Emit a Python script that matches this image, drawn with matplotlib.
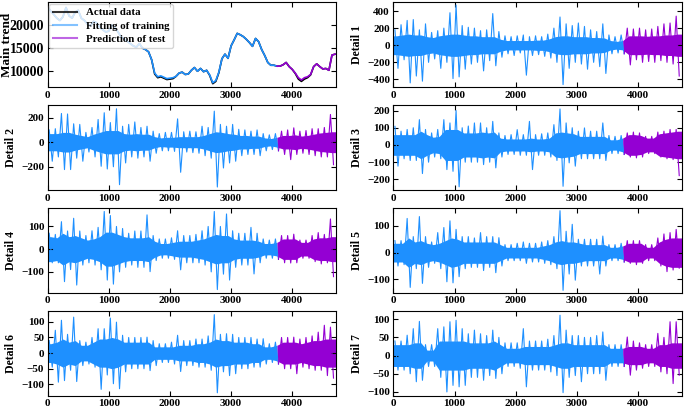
import numpy as np
import matplotlib.pyplot as plt
from matplotlib.lines import Line2D
from matplotlib.ticker import MultipleLocator

plt.rcParams['font.family'] = ['Liberation Serif', 'DejaVu Serif']
plt.rcParams['font.weight'] = 'bold'
plt.rcParams['axes.labelweight'] = 'bold'

BLUE = '#1e90ff'
PURPLE = '#9400d3'
SPLIT = 3750
N = 4720
CHUNK = 100

# main trend, one value every 50 steps (0..4700)
trend_fit = [24000, 23000, 22300, 21500, 21000, 21800, 23800, 22000, 21500, 22800,
             23200, 21500, 21000, 20200, 19800, 20800, 20500, 19500, 19000, 18500,
             18700, 20000, 19500, 18500, 17500, 17000, 16500, 16000, 15500, 15200,
             16000, 15000, 14700, 14200, 12500, 9600, 8800, 9000, 8700, 8400,
             8500, 8600, 8900, 9600, 9800, 9300, 9400, 10200, 10800, 10000,
             10600, 9900, 10200, 9200, 7500, 8000, 9800, 12700, 13700, 12800,
             15500, 16800, 18200, 17900, 17500, 16900, 16200, 15400, 17100, 16400,
             14700, 13400, 11900, 11300, 11300, 11100, 11100, 11400, 11900, 11000,
             10400, 9600, 8600, 8100, 8600, 8800, 9300, 11000, 11600, 11000,
             10500, 10600, 10200, 13500, 13700]
trend_actual = [24000, 23000, 22300, 21500, 21000, 21800, 23800, 22000, 21500, 22800,
                23200, 21500, 21000, 20200, 19800, 20800, 20500, 19500, 19000, 18500,
                18700, 20000, 19500, 18500, 17500, 17000, 16500, 16000, 15500, 15200,
                16000, 15000, 14700, 14200, 12500, 9400, 8600, 8800, 8500, 8200,
                8300, 8400, 8900, 9600, 9800, 9300, 9400, 10200, 10800, 10000,
                10600, 9900, 10200, 9100, 7300, 7800, 9700, 12700, 13700, 12800,
                15500, 16800, 18200, 17900, 17500, 16900, 16200, 15400, 17100, 16400,
                14700, 13400, 11900, 11300, 11300, 11100, 11100, 11400, 11900, 11000,
                10400, 9500, 8300, 7800, 8300, 8600, 9200, 11000, 11600, 11000,
                10500, 10600, 10200, 13500, 13700]

# detail components: per 100-step chunk, highest / lowest value and the dense core width
d1_hi = [180, 240, 290, 300, 180, 250, 150, 170, 200, 380, 470, 230, 210, 200, 170, 180,
         370, 160, 110, 100, 110, 120, 100, 110, 100, 130, 200, 330, 250, 230, 260, 220,
         180, 160, 250, 120, 100, 120, 200, 190, 200, 180, 190, 220, 250, 260, 340]
d1_lo = [-270, -170, -440, -360, -420, -200, -160, -270, -200, -390, -370, -280, -220, -200,
         -300, -180, -240, -140, -100, -120, -90, -350, -120, -110, -130, -150, -200, -460,
         -270, -200, -220, -280, -200, -250, -330, -100, -90, -100, -230, -170, -200, -190,
         -200, -180, -200, -220, -360]
d1_core = [110, 120, 130, 120, 120, 100, 90, 110, 120, 130, 130, 120, 110, 110, 100, 100,
           100, 70, 55, 55, 55, 55, 55, 60, 60, 75, 100, 110, 110, 100, 100, 100,
           90, 90, 85, 55, 45, 55, 110, 110, 110, 105, 110, 110, 120, 120, 130]

d2_hi = [100, 110, 234, 230, 150, 145, 80, 120, 185, 240, 160, 272, 130, 145, 165, 120,
         130, 90, 70, 80, 80, 190, 85, 90, 85, 130, 120, 253, 145, 130, 145, 105,
         100, 90, 100, 70, 60, 70, 90, 100, 117, 90, 95, 110, 110, 120, 226]
d2_lo = [-155, -120, -223, -223, -130, -155, -80, -120, -196, -218, -200, -346, -169, -120,
         -130, -120, -155, -90, -70, -70, -75, -245, -80, -85, -90, -110, -130, -365,
         -210, -169, -155, -110, -100, -100, -110, -70, -60, -70, -100, -142, -100, -90,
         -100, -110, -120, -120, -183]
d2_core = [70, 70, 80, 80, 65, 55, 45, 65, 80, 95, 95, 95, 70, 65, 70, 65,
           65, 45, 35, 40, 40, 45, 45, 45, 45, 55, 70, 85, 80, 70, 65, 55,
           55, 50, 50, 35, 30, 40, 55, 55, 60, 50, 55, 65, 75, 80, 85]

d3_hi = [108, 80, 90, 100, 147, 90, 70, 90, 147, 128, 200, 100, 110, 128, 128, 100,
         137, 70, 55, 60, 89, 60, 137, 60, 65, 70, 118, 209, 128, 100, 80, 99,
         80, 80, 128, 55, 50, 55, 70, 75, 70, 50, 50, 75, 80, 90, 90]
d3_lo = [-123, -80, -90, -90, -166, -100, -70, -80, -143, -153, -243, -100, -100, -100,
         -114, -100, -133, -70, -55, -55, -60, -60, -143, -60, -60, -70, -90, -240,
         -104, -123, -80, -80, -80, -80, -90, -50, -50, -55, -70, -75, -70, -50,
         -50, -70, -80, -85, -178]
d3_core = [60, 60, 60, 60, 80, 60, 45, 50, 90, 90, 90, 70, 70, 70, 75, 70,
           75, 40, 35, 35, 35, 35, 40, 35, 35, 40, 70, 75, 70, 65, 50, 50,
           50, 50, 50, 30, 30, 40, 60, 60, 55, 40, 40, 65, 70, 75, 80]

d4_hi = [70, 65, 121, 80, 136, 80, 60, 81, 96, 166, 148, 100, 91, 70, 80, 80,
         151, 60, 45, 45, 50, 81, 60, 60, 65, 81, 100, 166, 100, 155, 81, 70,
         70, 96, 70, 45, 40, 45, 60, 60, 66, 40, 40, 60, 73, 65, 133]
d4_lo = [-60, -60, -143, -90, -158, -70, -60, -70, -91, -136, -154, -100, -80, -70,
         -80, -80, -99, -50, -40, -40, -45, -91, -60, -60, -60, -70, -100, -178,
         -110, -136, -80, -70, -70, -109, -60, -40, -40, -45, -60, -61, -60, -40,
         -40, -55, -65, -60, -121]
d4_core = [55, 50, 70, 55, 60, 50, 40, 45, 55, 75, 75, 65, 55, 50, 50, 50,
           55, 35, 25, 25, 30, 35, 35, 35, 40, 45, 55, 65, 60, 60, 45, 40,
           40, 40, 35, 25, 25, 30, 45, 45, 45, 30, 30, 45, 50, 50, 55]

d5_hi = [45, 45, 128, 60, 135, 60, 40, 75, 94, 119, 87, 60, 60, 55, 75, 60,
         60, 56, 30, 30, 35, 40, 35, 35, 40, 45, 60, 157, 80, 106, 50, 50,
         50, 50, 62, 30, 30, 35, 45, 45, 45, 30, 30, 55, 70, 75, 87]
d5_lo = [-50, -45, -130, -60, -115, -55, -40, -60, -109, -113, -90, -60, -55, -55,
         -67, -55, -75, -50, -30, -30, -30, -40, -35, -35, -40, -45, -60, -141,
         -80, -103, -50, -50, -50, -80, -50, -30, -30, -35, -40, -45, -40, -30,
         -30, -50, -71, -65, -58]
d5_core = [35, 35, 55, 40, 45, 35, 30, 35, 45, 55, 50, 40, 40, 40, 40, 40,
           40, 30, 20, 20, 20, 20, 20, 20, 25, 30, 40, 45, 40, 40, 35, 30,
           30, 30, 30, 20, 20, 25, 35, 35, 35, 20, 20, 40, 50, 55, 55]

d6_hi = [40, 73, 105, 60, 115, 40, 35, 50, 78, 78, 112, 99, 57, 50, 50, 50,
         51, 40, 30, 30, 35, 57, 40, 40, 45, 45, 55, 123, 60, 62, 60, 50,
         50, 50, 45, 46, 30, 35, 50, 50, 51, 45, 50, 55, 67, 89, 83]
d6_lo = [-45, -93, -88, -55, -91, -40, -35, -45, -116, -70, -98, -114, -60, -50,
         -50, -50, -56, -40, -30, -30, -35, -59, -40, -40, -45, -45, -55, -127,
         -60, -72, -66, -50, -50, -45, -45, -35, -30, -35, -50, -50, -66, -45,
         -50, -55, -55, -72, -80]
d6_core = [30, 35, 45, 35, 40, 25, 25, 35, 45, 45, 50, 45, 35, 35, 35, 35,
           35, 20, 20, 20, 20, 25, 25, 25, 30, 30, 35, 45, 40, 40, 35, 35,
           35, 30, 30, 20, 20, 25, 35, 35, 35, 30, 35, 40, 40, 45, 45]

d7_hi = [40, 40, 56, 74, 94, 30, 30, 74, 79, 93, 97, 74, 60, 70, 60, 55,
         70, 50, 35, 35, 35, 74, 40, 40, 40, 45, 55, 111, 70, 55, 55, 50,
         50, 55, 65, 30, 30, 30, 51, 40, 35, 30, 30, 61, 50, 93, 93]
d7_lo = [-40, -40, -50, -72, -68, -30, -30, -60, -100, -82, -86, -82, -60, -60,
         -68, -55, -63, -50, -30, -30, -35, -86, -40, -40, -40, -45, -55, -102,
         -60, -55, -72, -50, -50, -50, -68, -30, -30, -30, -54, -40, -35, -30,
         -30, -45, -50, -77, -54]
d7_core = [30, 30, 30, 35, 35, 15, 15, 40, 40, 40, 40, 40, 35, 35, 35, 35,
           40, 30, 20, 20, 20, 25, 25, 25, 25, 25, 30, 35, 35, 30, 30, 30,
           30, 30, 30, 20, 20, 20, 25, 25, 25, 20, 20, 30, 30, 35, 35]


def style_axis(ax, label, ylim, step, ysize=8, lx=-0.106, lsize=8.5):
    ax.set_xlim(0, N)
    ax.set_ylim(*ylim)
    ax.set_ylabel(label, fontsize=lsize)
    ax.yaxis.set_label_coords(lx, 0.5)
    ax.xaxis.set_major_locator(MultipleLocator(1000))
    ax.yaxis.set_major_locator(MultipleLocator(step))
    ax.tick_params(direction='in', top=True, right=True, length=3.5)
    ax.tick_params(axis='x', labelsize=8, pad=2.5)
    ax.tick_params(axis='y', labelsize=ysize, pad=2.5)


def plot_trend(ax):
    x = np.arange(len(trend_fit)) * 50
    fit = np.array(trend_fit)
    act = np.array(trend_actual)
    s = np.searchsorted(x, SPLIT)
    ax.plot(x, act, color='black', lw=1.2)
    ax.plot(x[:s + 1], fit[:s + 1], color=BLUE, lw=1.2)
    ax.plot(x[s:], fit[s:], color=PURPLE, lw=1.2)

    handles = [Line2D([], [], color='black', lw=1.5, alpha=0.8),
               Line2D([], [], color=BLUE, lw=1.5, alpha=0.55),
               Line2D([], [], color=PURPLE, lw=1.5, alpha=0.6)]
    ax.legend(handles, ['Actual data', 'Fitting of training', 'Prediction of test'],
              loc='upper left', fontsize=7.8, borderaxespad=0.15, handlelength=2.2,
              labelspacing=0.35, borderpad=0.35)
    style_axis(ax, 'Main trend', (6550, 24900), 5000, ysize=10, lx=-0.121, lsize=9.5)


def plot_detail(ax, hi, lo, core, label, ylim, step):
    n = len(hi)
    start = np.arange(n) * CHUNK
    # zigzag through each chunk's extremes
    zx = np.column_stack([start + 25, start + 75]).ravel()
    zy = np.column_stack([hi, lo]).ravel()
    s = np.searchsorted(zx, SPLIT)
    ax.plot(zx[:s + 1], zy[:s + 1], color=BLUE, lw=0.8)
    ax.plot(zx[s:], zy[s:], color=PURPLE, lw=0.8)

    # dense core of the signal
    cx = np.concatenate([[0], start + 50, [N]])
    cy = np.concatenate([[core[0]], core, [core[-1]]])
    k = np.searchsorted(cx, SPLIT)
    ax.fill_between(cx[:k + 1], -cy[:k + 1], cy[:k + 1], color=BLUE, lw=0)
    ax.fill_between(cx[k:], -cy[k:], cy[k:], color=PURPLE, lw=0)
    style_axis(ax, label, ylim, step)


fig, axes = plt.subplots(4, 2, figsize=(6.85, 4.09), dpi=100)
fig.subplots_adjust(left=0.0696, right=0.9956, top=0.994, bottom=0.032,
                    wspace=0.198, hspace=0.215)

plot_trend(axes[0, 0])
plot_detail(axes[0, 1], d1_hi, d1_lo, d1_core, 'Detail 1', (-490, 500), 200)
plot_detail(axes[1, 0], d2_hi, d2_lo, d2_core, 'Detail 2', (-390, 300), 200)
plot_detail(axes[1, 1], d3_hi, d3_lo, d3_core, 'Detail 3', (-262, 230), 100)
plot_detail(axes[2, 0], d4_hi, d4_lo, d4_core, 'Detail 4', (-193, 180), 100)
plot_detail(axes[2, 1], d5_hi, d5_lo, d5_core, 'Detail 5', (-151, 166), 100)
plot_detail(axes[3, 0], d6_hi, d6_lo, d6_core, 'Detail 6', (-137, 134), 50)
plot_detail(axes[3, 1], d7_hi, d7_lo, d7_core, 'Detail 7', (-111, 122), 50)

fig.savefig('out.png', dpi=100)
